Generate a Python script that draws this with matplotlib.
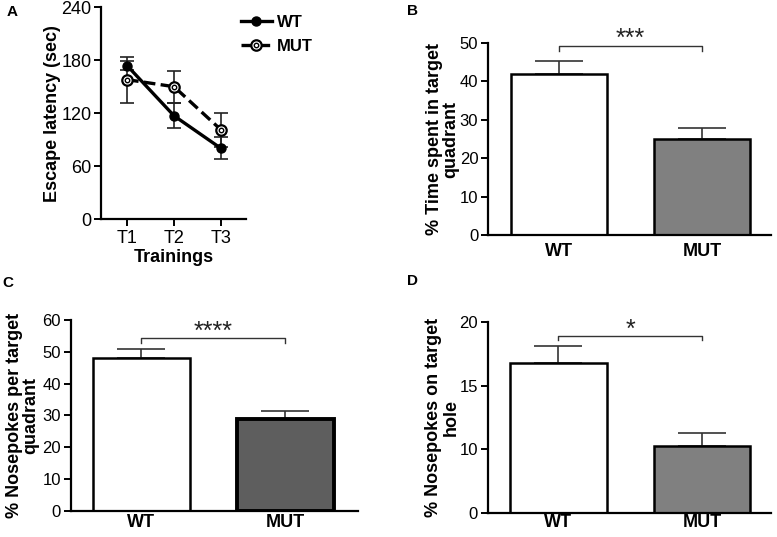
import numpy as np
import matplotlib
matplotlib.use("Agg")
import matplotlib.pyplot as plt
from matplotlib.lines import Line2D
from matplotlib.legend_handler import HandlerTuple

plt.rcParams['font.family'] = ['Liberation Sans', 'DejaVu Sans']

# ---- data ----
trainings = ["T1", "T2", "T3"]
wt_latency = [174, 117, 80]
wt_latency_sem = [5, 14, 12.5]
mut_latency = [158, 150, 101]
mut_latency_sem = [26, 18, 19]

groups = ["WT", "MUT"]
time_target = [41.8, 25.1]
time_target_sem = [3.6, 2.8]
nose_quadrant = [48.0, 28.8]
nose_quadrant_sem = [2.8, 2.7]
nose_hole = [16.75, 10.3]
nose_hole_sem = [1.35, 0.95]

sig_B = "***"
sig_C = "****"
sig_D = "*"

W, H = 777, 537
fig = plt.figure(figsize=(W / 100, H / 100), dpi=100)


def ax_px(left, top, right, bottom):
    return fig.add_axes([left / W, 1 - bottom / H, (right - left) / W, (bottom - top) / H])


def style(ax, ls=12):
    for s in ["top", "right"]:
        ax.spines[s].set_visible(False)
    for s in ["left", "bottom"]:
        ax.spines[s].set_linewidth(1.6)
    ax.tick_params(axis="both", width=1.4, length=5, labelsize=ls, pad=2)


# ---- Panel A ----
axA = ax_px(101, 7.3, 246, 219)
style(axA, 13)
x = np.arange(len(trainings))
axA.errorbar(x, mut_latency, yerr=mut_latency_sem, fmt="none", ecolor="#222222",
             elinewidth=1.2, capsize=5, capthick=1.2, zorder=2)
axA.errorbar(x, wt_latency, yerr=wt_latency_sem, fmt="none", ecolor="#222222",
             elinewidth=1.2, capsize=5, capthick=1.2, zorder=2)
axA.plot(x, wt_latency, color="black", lw=2.4, marker="o", ms=6.5,
         markerfacecolor="black", zorder=3)
axA.plot(x, mut_latency, color="black", lw=2.4, ls=(0, (3.5, 1.6)), marker="o", ms=7.5,
         markerfacecolor="white", markeredgewidth=1.6, zorder=4)
axA.plot(x, mut_latency, ls="none", marker="o", ms=3.2,
         markerfacecolor="white", markeredgecolor="black", markeredgewidth=1.0, zorder=5)
axA.set_xlim(-0.553, 2.53)
axA.set_ylim(0, 240)
axA.set_yticks([0, 60, 120, 180, 240])
axA.set_xticks(x)
axA.set_xticklabels(trainings)
axA.tick_params(axis="x", pad=3)
axA.set_ylabel("Escape latency (sec)", fontsize=13, fontweight="bold", labelpad=0)
axA.set_xlabel("Trainings", fontsize=13, fontweight="bold", labelpad=1)

h_wt = Line2D([], [], color="black", lw=2.4, marker="o", ms=6.5, markerfacecolor="black")
h_mut = Line2D([], [], color="black", lw=2.4, ls=(0, (3.5, 1.6)), marker="o", ms=7.5,
               markerfacecolor="white", markeredgewidth=1.6)
h_mut_in = Line2D([], [], ls="none", marker="o", ms=3.2, markerfacecolor="white",
                  markeredgecolor="black", markeredgewidth=1.0)
fig.legend([h_wt, (h_mut, h_mut_in)], ["WT", "MUT"], loc="upper left",
           bbox_to_anchor=(234 / W, 1 - 8 / H), frameon=False,
           prop={"weight": "bold", "size": 12}, handlelength=1.85,
           handletextpad=0.3, labelspacing=0.55, borderaxespad=0,
           handler_map={tuple: HandlerTuple(ndivide=1)})


# ---- bar panel helper ----
def bar_panel(ax, vals, sems, mut_color, mut_lw, xlim, xpad):
    style(ax)
    xb = np.arange(len(groups))
    ax.errorbar(xb, vals, yerr=[np.zeros(len(sems)), sems], fmt="none",
                ecolor="#333333", elinewidth=1.2, capsize=17, capthick=1.2, zorder=1)
    ax.bar(xb, vals, width=0.67, color=["white", mut_color],
           edgecolor="black", linewidth=[1.8, mut_lw], zorder=2)
    ax.set_xlim(*xlim)
    ax.set_xticks(xb)
    ax.set_xticklabels(groups, fontsize=13, fontweight="bold")
    ax.tick_params(axis="x", length=0, pad=xpad)
    return xb


def bracket(ax, x0, x1, y, drop, text, ty):
    ax.plot([x0, x0, x1, x1], [y - drop, y, y, y - drop], color="#333333", lw=1.0,
            clip_on=False)
    ax.text((x0 + x1) / 2, ty, text, ha="center", va="center", fontsize=18,
            clip_on=False, color="#222222")


# ---- Panel B ----
axB = ax_px(488, 43, 771, 235)
bar_panel(axB, time_target, time_target_sem, "#808080", 1.8, (-0.493, 1.481), 6)
axB.set_ylim(0, 50)
axB.set_yticks([0, 10, 20, 30, 40, 50])
axB.set_ylabel("% Time spent in target\nquadrant", fontsize=13, fontweight="bold",
               labelpad=0, linespacing=1.0)
bracket(axB, 0, 1, 49.1, 1.2, sig_B, 51.0)

# ---- Panel C ----
axC = ax_px(70.7, 320, 357.7, 510.7)
bar_panel(axC, nose_quadrant, nose_quadrant_sem, "#5e5e5e", 2.8, (-0.49, 1.503), 2.5)
axC.set_ylim(0, 60)
axC.set_yticks([0, 10, 20, 30, 40, 50, 60])
axC.set_ylabel("% Nosepokes per target\nquadrant", fontsize=13, fontweight="bold",
               labelpad=2, linespacing=1.0)
bracket(axC, 0, 1, 54.2, 1.3, sig_C, 56.4)

# ---- Panel D ----
def fwd(y):
    y = np.asarray(y, dtype=float)
    return np.where(y <= 10, y / 2.0, y - 5.0)


def inv(v):
    v = np.asarray(v, dtype=float)
    return np.where(v <= 5, v * 2.0, v + 5.0)


axD = ax_px(487.7, 321.7, 771, 513.3)
axD.set_yscale("function", functions=(fwd, inv))
bar_panel(axD, nose_hole, nose_hole_sem, "#808080", 1.8, (-0.493, 1.481), 0.5)
axD.set_ylim(0, 20)
axD.set_yticks([0, 10, 15, 20])
axD.set_yticklabels(["0", "10", "15", "20"])
axD.yaxis.set_minor_locator(matplotlib.ticker.NullLocator())
axD.set_ylabel("% Nosepokes on target\nhole", fontsize=13, fontweight="bold",
               labelpad=0, linespacing=1.0)
bracket(axD, 0, 1, 18.88, 0.3, sig_D, 19.35)

# ---- panel letters ----
for lbl, px, py in [("A", 12, 12), ("B", 412, 11), ("C", 8, 283), ("D", 412, 281)]:
    fig.text(px / W, 1 - py / H, lbl, fontsize=11, fontweight="bold",
             ha="center", va="center")

fig.savefig("out.png", dpi=100)
